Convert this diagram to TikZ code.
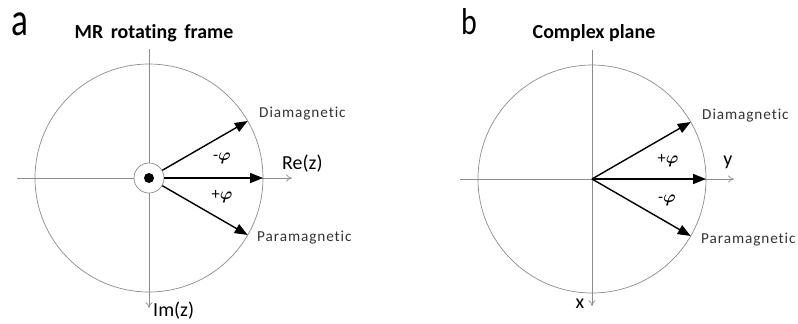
\documentclass[tikz,border=0pt]{standalone}
\usepackage{fontspec}
\setmainfont{Carlito}[Ligatures=NoCommon]
\newfontfamily\titlefont{Carlito}[WordSpace=1.7, Ligatures=NoCommon]
\newfontfamily\labelfont{Carlito}[LetterSpace=6, Ligatures=NoCommon]
\usetikzlibrary{arrows.meta, positioning}

\begin{document}
\begin{tikzpicture}[x=0.03cm, y=-0.03cm,
    axis/.style={draw=gray!90, line width=0.6pt},
    axisarrow/.style={axis, -{To[length=5pt, width=6pt]}},
    vec/.style={draw=black, line width=1.2pt, -{Triangle[length=11pt, width=8.5pt]}},
    lbl/.style={font={\labelfont\fontsize{13}{15}\selectfont}, text=black!80, inner sep=0pt},
    ang/.style={font={\fontsize{14}{16}\selectfont\boldmath}, inner sep=0pt},
    axlbl/.style={font={\fontsize{17}{19}\selectfont}, inner sep=0pt},
    title/.style={font={\fontsize{17}{19}\selectfont\bfseries}, inner sep=0pt},
    widetitle/.style={font={\titlefont\fontsize{17}{19}\selectfont\bfseries}, inner sep=0pt},
    panel/.style={inner sep=0pt}
  ]
  \useasboundingbox (0,0) rectangle (798,323);

  % Panel a: MR rotating frame
  \coordinate (Oa) at (149,178);
  \node[panel, font=\fontsize{40}{42}\selectfont] (pa) at (20,24.5) {\scalebox{0.75}[1]{a}};
  \node[widetitle] (ta) at (154,33) {MR rotating frame};
  \draw[axis] (Oa) circle (114);
  \node[circle, draw=gray!90, fill=white, line width=0.6pt, minimum size=30*0.03cm, inner sep=0pt] (ring) at (Oa) {};
  \fill (Oa) circle (5);
  \coordinate (Ta) at (149,49);
  \coordinate (Ia) at (149,308);
  \coordinate (La) at (17,178);
  \coordinate (Ra) at (292,178);
  \draw[axis] (La) -- (ring);
  \draw[axis] (ring) -- (Ta);
  \draw[axisarrow] (ring) -- (Ra);
  \draw[axisarrow] (ring) -- (Ia);
  \coordinate (Da) at (247.7,121);
  \coordinate (Ha) at (263,178);
  \coordinate (Pa) at (247.7,235);
  \draw[vec] (ring) -- (Da);
  \draw[vec] (ring) -- (Ha);
  \draw[vec] (ring) -- (Pa);
  \node[lbl, anchor=west] (dia) at (259,114) {Diamagnetic};
  \node[lbl, anchor=west] (para) at (257,238) {Paramagnetic};
  \node[ang] (ma) at (222,158) {-$\varphi$};
  \node[ang] (pl) at (222,197) {+$\varphi$};
  \node[axlbl, anchor=west] (re) at (282,164) {Re(z)};
  \node[axlbl, anchor=west] (im) at (153,311) {Im(z)};

  % Panel b: complex plane
  \coordinate (Ob) at (592,179);
  \node[panel, font=\fontsize{32}{34}\selectfont] (pb) at (469,21.5) {\scalebox{0.8}[1]{b}};
  \node[title] (tb) at (594,33) {Complex plane};
  \draw[axis] (Ob) circle (114);
  \coordinate (Tb) at (592,50);
  \coordinate (Xb) at (592,306);
  \coordinate (Lb) at (460,179);
  \coordinate (Yb) at (734,179);
  \draw[axis] (Tb) -- (Ob);
  \draw[axisarrow] (Ob) -- (Xb);
  \draw[axis] (Lb) -- (Ob);
  \draw[axisarrow] (Ob) -- (Yb);
  \coordinate (Db) at (690.7,122);
  \coordinate (Hb) at (706,179);
  \coordinate (Pb) at (690.7,236);
  \draw[vec] (Ob) -- (Db);
  \draw[vec] (Ob) -- (Hb);
  \draw[vec] (Ob) -- (Pb);
  \node[lbl, anchor=west] (dib) at (702,116) {Diamagnetic};
  \node[lbl, anchor=west] (pab) at (701,240) {Paramagnetic};
  \node[ang] (pp) at (668,161) {+$\varphi$};
  \node[ang] (mm) at (667,200) {-$\varphi$};
  \node[axlbl] (yl) at (728,162) {y};
  \node[axlbl] (xl) at (580,304) {x};

\end{tikzpicture}
\end{document}
